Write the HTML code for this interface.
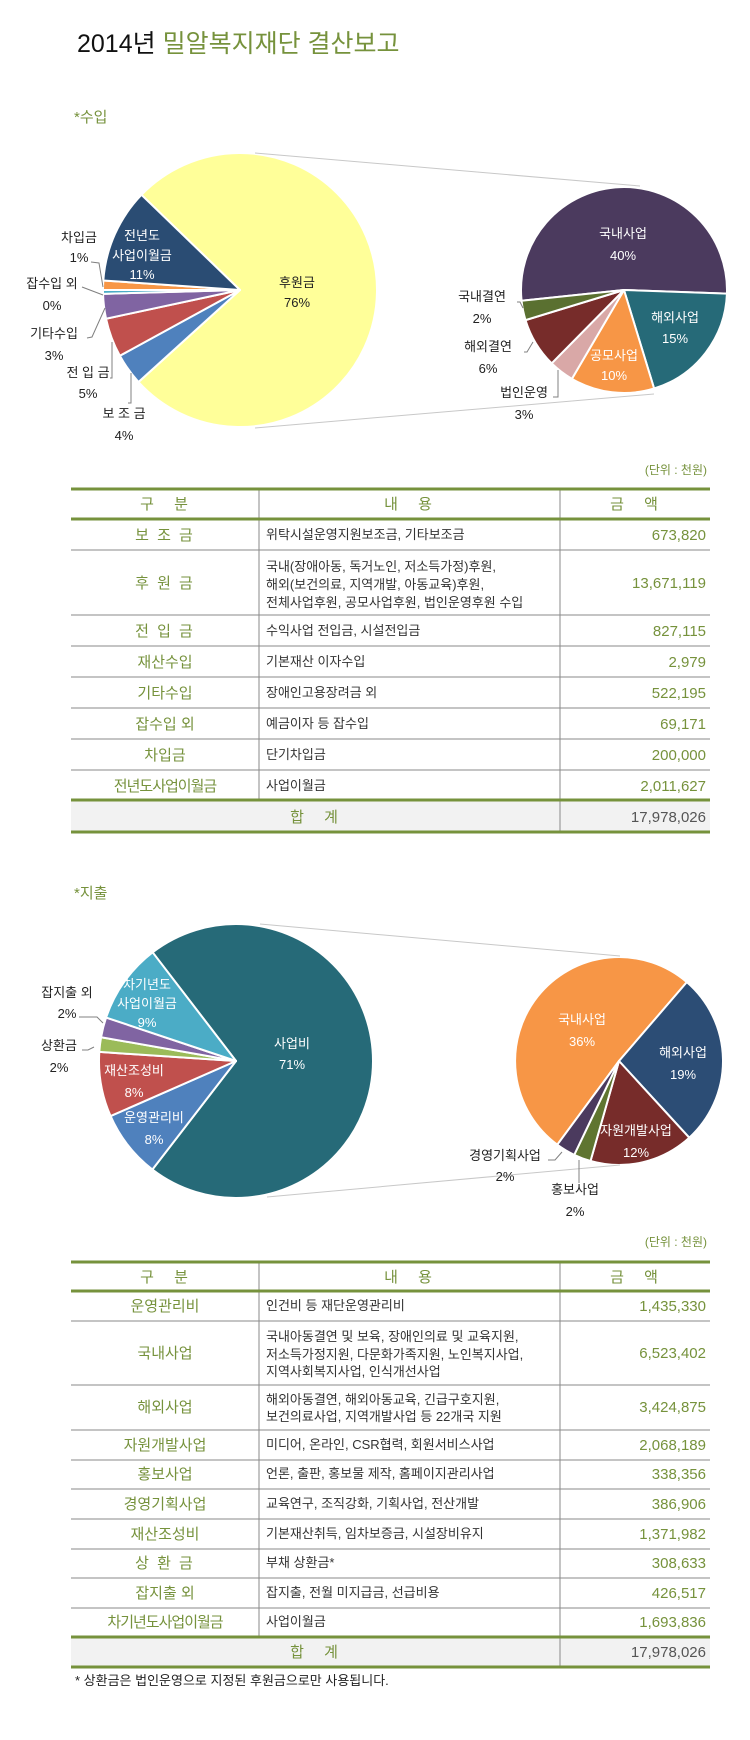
<!DOCTYPE html>
<html><head><meta charset="utf-8"><style>
html,body{margin:0;padding:0;background:#fff;}
svg{display:block;font-family:"Liberation Sans","Noto Sans CJK KR",sans-serif;}
.g{fill:#76923C}
.lb{font-size:13px;fill:#222}
.w{fill:#fff}
.c1{font-size:15px;fill:#76923C;text-anchor:middle}
.c2{font-size:13px;fill:#333}
.c3{font-size:15px;fill:#76923C;text-anchor:end}
.h{font-size:15px;fill:#76923C;text-anchor:middle;letter-spacing:8px}
.ld{stroke:#808080;stroke-width:1;fill:none}
</style></head><body>
<svg id="s" width="750" height="1740" viewBox="0 0 750 1740" xmlns="http://www.w3.org/2000/svg">
<text x="77" y="52" font-size="25" fill="#111">2014년 <tspan fill="#76923C">밀알복지재단 결산보고</tspan></text>
<text x="74" y="122" font-size="15" fill="#76923C">*수입</text>
<g id="pies"></g>
<line x1="255" y1="153" x2="640" y2="186" stroke="#c8c8c8"/>
<line x1="255" y1="428" x2="654" y2="394" stroke="#c8c8c8"/>
<polyline class="ld" points="91,262 99,263 103,287"/>
<polyline class="ld" points="82,287 103,295"/>
<polyline class="ld" points="87,338 92,337 105,308"/>
<polyline class="ld" points="110,378 112,378 112,342"/>
<polyline class="ld" points="128,403 131,403 131,373"/>
<polyline class="ld" points="517,302 520,302 523,308"/>
<polyline class="ld" points="524,352 527,352 533,342"/>
<polyline class="ld" points="553,397 558,397 558,370"/>
<g class="lb" text-anchor="middle">
<text x="142" y="240" class="w">전년도</text><text x="142" y="260" class="w">사업이월금</text><text x="142" y="279" class="w">11%</text>
<text x="297" y="287">후원금</text><text x="297" y="307">76%</text>
<text x="79" y="242">차입금</text><text x="79" y="262">1%</text>
<text x="52" y="288">잡수입 외</text><text x="52" y="310">0%</text>
<text x="54" y="338">기타수입</text><text x="54" y="360">3%</text>
<text x="88" y="377">전 입 금</text><text x="88" y="398">5%</text>
<text x="124" y="418">보 조 금</text><text x="124" y="440">4%</text>
<text x="623" y="238" class="w">국내사업</text><text x="623" y="260" class="w">40%</text>
<text x="675" y="322" class="w">해외사업</text><text x="675" y="343" class="w">15%</text>
<text x="614" y="360" class="w">공모사업</text><text x="614" y="380" class="w">10%</text>
<text x="482" y="301">국내결연</text><text x="482" y="323">2%</text>
<text x="488" y="351">해외결연</text><text x="488" y="373">6%</text>
<text x="524" y="397">법인운영</text><text x="524" y="419">3%</text>
</g>
<text x="707" y="474" font-size="12" fill="#76923C" text-anchor="end">(단위 : 천원)</text>
<g stroke="#8a8a8a" stroke-width="1">
<line x1="259" y1="488" x2="259" y2="800"/><line x1="560" y1="488" x2="560" y2="832"/>
<line x1="71" y1="550" x2="710" y2="550"/><line x1="71" y1="615" x2="710" y2="615"/>
<line x1="71" y1="646" x2="710" y2="646"/><line x1="71" y1="677" x2="710" y2="677"/>
<line x1="71" y1="708" x2="710" y2="708"/><line x1="71" y1="739" x2="710" y2="739"/>
<line x1="71" y1="770" x2="710" y2="770"/>
</g>
<rect x="71" y="800" width="639" height="32" fill="#F2F2F2"/>
<line x1="560" y1="800" x2="560" y2="832" stroke="#8a8a8a"/>
<g stroke="#76923C" stroke-width="3">
<line x1="71" y1="489" x2="710" y2="489"/><line x1="71" y1="519" x2="710" y2="519"/>
<line x1="71" y1="800" x2="710" y2="800"/><line x1="71" y1="832" x2="710" y2="832"/>
</g>
<text class="h" x="168" y="509">구 분</text><text class="h" x="412" y="509">내 용</text><text class="h" x="638" y="509">금 액</text>
<text class="c1" x="165" y="540" letter-spacing="2">보 조 금</text><text class="c2" x="266" y="539">위탁시설운영지원보조금, 기타보조금</text><text class="c3" x="706" y="540">673,820</text>
<text class="c1" x="165" y="588" letter-spacing="2">후 원 금</text><text class="c2" x="266" y="571">국내(장애아동, 독거노인, 저소득가정)후원,</text><text class="c2" x="266" y="589">해외(보건의료, 지역개발, 아동교육)후원,</text><text class="c2" x="266" y="607">전체사업후원, 공모사업후원, 법인운영후원 수입</text><text class="c3" x="706" y="588">13,671,119</text>
<text class="c1" x="165" y="636" letter-spacing="2">전 입 금</text><text class="c2" x="266" y="635">수익사업 전입금, 시설전입금</text><text class="c3" x="706" y="636">827,115</text>
<text class="c1" x="165" y="667">재산수입</text><text class="c2" x="266" y="666">기본재산 이자수입</text><text class="c3" x="706" y="667">2,979</text>
<text class="c1" x="165" y="698">기타수입</text><text class="c2" x="266" y="697">장애인고용장려금 외</text><text class="c3" x="706" y="698">522,195</text>
<text class="c1" x="165" y="729">잡수입 외</text><text class="c2" x="266" y="728">예금이자 등 잡수입</text><text class="c3" x="706" y="729">69,171</text>
<text class="c1" x="165" y="760">차입금</text><text class="c2" x="266" y="759">단기차입금</text><text class="c3" x="706" y="760">200,000</text>
<text class="c1" x="165" y="791" letter-spacing="-1">전년도사업이월금</text><text class="c2" x="266" y="790">사업이월금</text><text class="c3" x="706" y="791">2,011,627</text>
<text class="h" x="318" y="822">합 계</text><text class="c3" x="706" y="822" style="fill:#555">17,978,026</text>

<text x="74" y="898" font-size="15" fill="#76923C">*지출</text>
<line x1="260" y1="924" x2="620" y2="956" stroke="#c8c8c8"/>
<line x1="267" y1="1197" x2="620" y2="1165" stroke="#c8c8c8"/>
<polyline class="ld" points="79,1017 97,1017 103,1023"/>
<polyline class="ld" points="82,1050 88,1050 94,1047"/>
<polyline class="ld" points="548,1160 555,1160 562,1152"/>
<polyline class="ld" points="579,1160 579,1183"/>
<g class="lb" text-anchor="middle">
<text x="147" y="989" class="w">차기년도</text><text x="147" y="1008" class="w">사업이월금</text><text x="147" y="1027" class="w">9%</text>
<text x="292" y="1048" class="w">사업비</text><text x="292" y="1069" class="w">71%</text>
<text x="134" y="1075" class="w">재산조성비</text><text x="134" y="1097" class="w">8%</text>
<text x="154" y="1122" class="w">운영관리비</text><text x="154" y="1144" class="w">8%</text>
<text x="67" y="997">잡지출 외</text><text x="67" y="1018">2%</text>
<text x="59" y="1050">상환금</text><text x="59" y="1072">2%</text>
<text x="582" y="1024" class="w">국내사업</text><text x="582" y="1046" class="w">36%</text>
<text x="683" y="1057" class="w">해외사업</text><text x="683" y="1079" class="w">19%</text>
<text x="636" y="1135" class="w">자원개발사업</text><text x="636" y="1157" class="w">12%</text>
<text x="505" y="1160">경영기획사업</text><text x="505" y="1181">2%</text>
<text x="575" y="1194">홍보사업</text><text x="575" y="1216">2%</text>
</g>
<text x="707" y="1246" font-size="12" fill="#76923C" text-anchor="end">(단위 : 천원)</text>
<g stroke="#8a8a8a" stroke-width="1">
<line x1="259" y1="1261" x2="259" y2="1637"/><line x1="560" y1="1261" x2="560" y2="1667"/>
<line x1="71" y1="1321" x2="710" y2="1321"/><line x1="71" y1="1385" x2="710" y2="1385"/>
<line x1="71" y1="1430" x2="710" y2="1430"/><line x1="71" y1="1460" x2="710" y2="1460"/>
<line x1="71" y1="1489" x2="710" y2="1489"/><line x1="71" y1="1519" x2="710" y2="1519"/>
<line x1="71" y1="1549" x2="710" y2="1549"/><line x1="71" y1="1578" x2="710" y2="1578"/>
<line x1="71" y1="1608" x2="710" y2="1608"/>
</g>
<rect x="71" y="1637" width="639" height="30" fill="#F2F2F2"/>
<line x1="560" y1="1637" x2="560" y2="1667" stroke="#8a8a8a"/>
<g stroke="#76923C" stroke-width="3">
<line x1="71" y1="1262" x2="710" y2="1262"/><line x1="71" y1="1291" x2="710" y2="1291"/>
<line x1="71" y1="1637" x2="710" y2="1637"/><line x1="71" y1="1667" x2="710" y2="1667"/>
</g>
<text class="h" x="168" y="1282">구 분</text><text class="h" x="412" y="1282">내 용</text><text class="h" x="638" y="1282">금 액</text>
<text class="c1" x="165" y="1311">운영관리비</text><text class="c2" x="266" y="1310">인건비 등 재단운영관리비</text><text class="c3" x="706" y="1311">1,435,330</text>
<text class="c1" x="165" y="1358">국내사업</text><text class="c2" x="266" y="1341">국내아동결연 및 보육, 장애인의료 및 교육지원,</text><text class="c2" x="266" y="1359">저소득가정지원, 다문화가족지원, 노인복지사업,</text><text class="c2" x="266" y="1376">지역사회복지사업, 인식개선사업</text><text class="c3" x="706" y="1358">6,523,402</text>
<text class="c1" x="165" y="1412">해외사업</text><text class="c2" x="266" y="1404">해외아동결연, 해외아동교육, 긴급구호지원,</text><text class="c2" x="266" y="1421">보건의료사업, 지역개발사업 등 22개국 지원</text><text class="c3" x="706" y="1412">3,424,875</text>
<text class="c1" x="165" y="1450">자원개발사업</text><text class="c2" x="266" y="1449">미디어, 온라인, CSR협력, 회원서비스사업</text><text class="c3" x="706" y="1450">2,068,189</text>
<text class="c1" x="165" y="1479">홍보사업</text><text class="c2" x="266" y="1478">언론, 출판, 홍보물 제작, 홈페이지관리사업</text><text class="c3" x="706" y="1479">338,356</text>
<text class="c1" x="165" y="1509">경영기획사업</text><text class="c2" x="266" y="1508">교육연구, 조직강화, 기획사업, 전산개발</text><text class="c3" x="706" y="1509">386,906</text>
<text class="c1" x="165" y="1539">재산조성비</text><text class="c2" x="266" y="1538">기본재산취득, 임차보증금, 시설장비유지</text><text class="c3" x="706" y="1539">1,371,982</text>
<text class="c1" x="165" y="1568" letter-spacing="2">상 환 금</text><text class="c2" x="266" y="1567">부채 상환금*</text><text class="c3" x="706" y="1568">308,633</text>
<text class="c1" x="165" y="1598">잡지출 외</text><text class="c2" x="266" y="1597">잡지출, 전월 미지급금, 선급비용</text><text class="c3" x="706" y="1598">426,517</text>
<text class="c1" x="165" y="1627" letter-spacing="-1">차기년도사업이월금</text><text class="c2" x="266" y="1626">사업이월금</text><text class="c3" x="706" y="1627">1,693,836</text>
<text class="h" x="318" y="1657">합 계</text><text class="c3" x="706" y="1657" style="fill:#555">17,978,026</text>
<text x="75" y="1685" font-size="13" fill="#222">* 상환금은 법인운영으로 지정된 후원금으로만 사용됩니다.</text>
</svg>
<script>
(function(){
var g=document.getElementById('pies'),NS='http://www.w3.org/2000/svg';
function pie(cx,cy,r,start,sl){
  var a=start;
  sl.forEach(function(s){
    var b=a+s[0],p=function(t){t=t*Math.PI/180;return (cx+r*Math.sin(t)).toFixed(2)+','+(cy-r*Math.cos(t)).toFixed(2);};
    var d='M'+cx+','+cy+' L'+p(a)+' A'+r+','+r+' 0 '+(s[0]>180?1:0)+' 1 '+p(b)+' Z';
    var e=document.createElementNS(NS,'path');e.setAttribute('d',d);e.setAttribute('fill',s[1]);
    e.setAttribute('stroke','#fff');e.setAttribute('stroke-width','2');e.setAttribute('stroke-linejoin','round');
    g.appendChild(e);a=b;
  });
}
pie(240,290,137,-46,[[273.8,'#FFFF99'],[13.5,'#4F81BD'],[16.6,'#C0504D'],[10.5,'#8064A2'],[1.6,'#4BACC6'],[4,'#F79646'],[40,'#2A4C73']]);
pie(624,290,103,264,[[188,'#4B3A5E'],[71,'#266A78'],[47.4,'#F79646'],[14.2,'#D9A8A7'],[28.4,'#772C2A'],[11,'#5A7030']]);
pie(236,1061,137,-37.5,[[255.1,'#266A78'],[28.7,'#4F81BD'],[27.5,'#C0504D'],[6.2,'#9BBB59'],[8.5,'#8064A2'],[34,'#4BACC6']]);
pie(619,1061,104,216.4,[[184.3,'#F79646'],[96.8,'#2C4D75'],[58.4,'#772C2A'],[9.6,'#5F7530'],[10.9,'#4B3A5E']]);
})();
</script>
</body></html>
